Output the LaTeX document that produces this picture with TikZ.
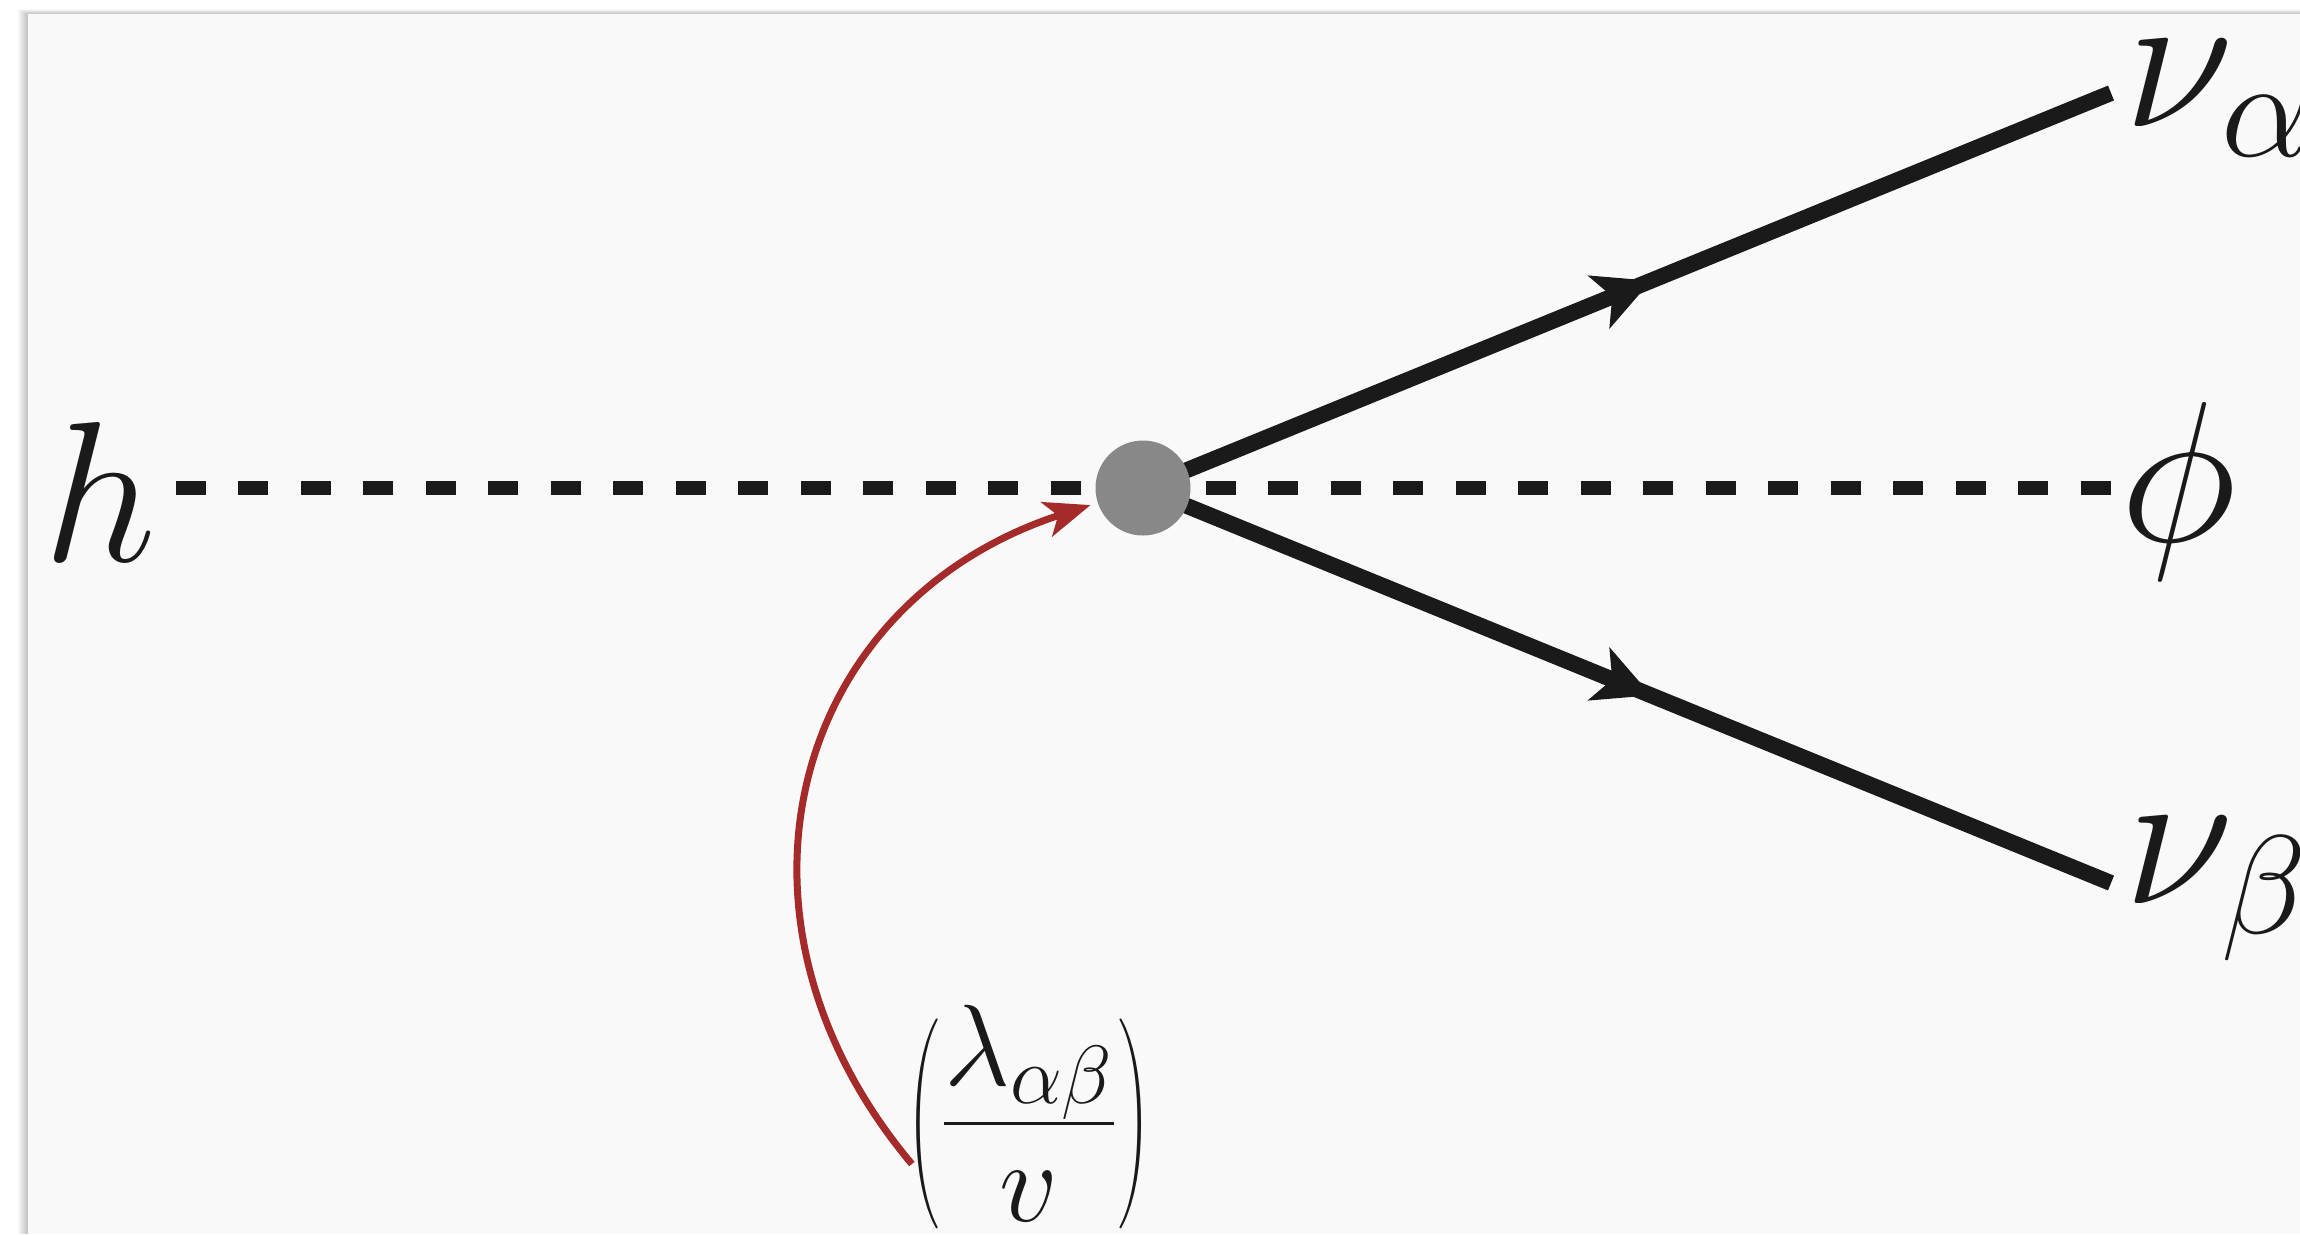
\documentclass[tikz,border=0pt]{standalone}
\usepackage{fix-cm}
\usepackage{amsmath}
\usepackage{graphicx}
\usepackage{xcolor}
\definecolor{panelcolor}{HTML}{F9F9F9}
\definecolor{linecolor}{HTML}{1A1A1A}
\definecolor{vertexcolor}{HTML}{888888}
\definecolor{couplingcolor}{HTML}{A52A2A}
\usetikzlibrary{arrows.meta,decorations.markings}
% tall thin bracket, centred on the math axis
\newcommand{\thinparen}[1]{\vcenter{\hbox{\fontsize{33}{36}\selectfont\scalebox{0.5}[1]{$#1$}}}}
\tikzset{
    scalar/.style={
        draw=linecolor,
        line width=0.14cm,
        dash pattern=on 0.30cm off 0.325cm,
    },
    fermion/.style={
        draw=linecolor,
        line width=0.16cm,
        postaction={decorate},
        decoration={markings,
            mark=at position 0.525 with {\arrow[linecolor]{Stealth[length=0.56cm,width=0.56cm,inset=0.14cm]}}},
    },
    vertexdot/.style={
        circle,
        fill=vertexcolor,
        minimum size=0.95cm,
        inner sep=0pt,
    },
    coupling/.style={
        draw=couplingcolor,
        line width=0.07cm,
        -{Stealth[length=0.46cm,width=0.36cm,inset=0.12cm]},
        shorten >=0.07cm,
    },
    legtext/.style={
        text=linecolor,
        font=\fontsize{57}{60}\selectfont,
    },
}

\begin{document}
\begin{tikzpicture}
    \useasboundingbox (0,0) rectangle (23,-12.34);
    \clip (0,0) rectangle (23,-12.34);
    \fill[white] (0,0) rectangle (23,-12.34);
    % soft shadow round the panel
    \foreach \k in {1,...,10}
        \fill[black, opacity=0.022] (0.28-0.01*\k, -0.14+0.005*\k) rectangle (23,-12.34);
    \fill[panelcolor] (0.28,-0.14) rectangle (23,-12.34);

    \coordinate (vc) at (11.43,-4.88);
    \coordinate (hend) at (1.75,-4.88);
    \coordinate (phiend) at (21.11,-4.88);
    \coordinate (nuaend) at (21.11,-0.93);
    \coordinate (nubend) at (21.11,-8.83);

    \node[legtext] (h) at (1.00,-4.92) {$h$};
    \node[legtext] (phi) at (21.79,-4.91) {$\phi$};
    \node[legtext, anchor=base west] (nua) at (21.12,-1.26) {$\nu_\alpha$};
    \node[legtext, anchor=base west] (nub) at (21.12,-9.03) {$\nu_\beta$};
    \node[legtext, font=\fontsize{47}{50}\selectfont, inner sep=2pt] (frac) at (10.29,-11.17)
        {$\thinparen{\Bigl(}\genfrac{}{}{0.8pt}{1}{\lambda_{\alpha\beta}}{v}\thinparen{\Bigr)}$};

    \draw[scalar] (vc) -- (hend);
    \draw[scalar] (vc) -- (phiend);
    \draw[fermion] (vc) -- (nuaend);
    \draw[fermion] (vc) -- (nubend);
    \node[vertexdot] (vtx) at (vc) {};

    \draw[coupling] ([xshift=0.12cm]frac.200) to[out=130, in=198, looseness=1.2] (vtx);
\end{tikzpicture}
\end{document}
